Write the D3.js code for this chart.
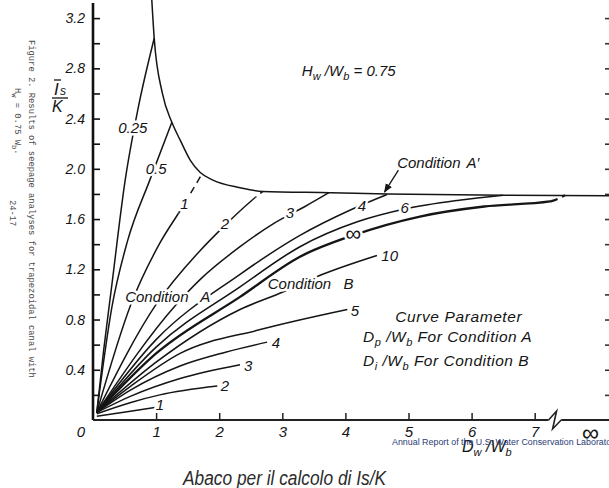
<!DOCTYPE html>
<html lang="it">
<head>
<meta charset="UTF-8" />
<title>Abaco per il calcolo di Is/K</title>
<style>
  body { margin: 0; background: #fff; }
  svg text { font-family: "Liberation Sans", Arial, sans-serif; font-style: italic; fill: #151515; }
  .halo { stroke: #fff; stroke-width: 5px; paint-order: stroke; stroke-linejoin: round; }
  .mono { font-family: "Liberation Mono", "DejaVu Sans Mono", monospace; font-style: normal; fill: #4a4a4a; }
  .curve { fill: none; stroke: #151515; }
</style>
</head>
<body>
<div id="chart"></div>
<script src="https://cdn.jsdelivr.net/npm/d3@7"></script>
<script>
var W = 609, H = 488;

// axis ticks
var yTicks = [0.2, 0.4, 0.6, 0.8, 1.0, 1.2, 1.4, 1.6, 1.8, 2.0, 2.2, 2.4, 2.6, 2.8, 3.0, 3.2];
var yLabels = [0.4, 0.8, 1.2, 1.6, 2.0, 2.4, 2.8, 3.2];
var xTicks = [1, 2, 3, 4, 5, 6, 7];
var xInf = 7.88; // where the "infinity" label sits, past the axis break

// envelope "Condition A'"
var envelope = [[0.93, 3.36], [0.97, 3.04], [1.1, 2.6], [1.25, 2.37], [1.38, 2.23], [1.54, 2.07], [1.70, 1.97], [1.90, 1.91], [2.33, 1.85], [2.69, 1.82], [3.76, 1.81], [4.66, 1.80], [6.5, 1.79], [8.3, 1.785]];

// Condition A curves (Dp/Wb)
var a025 = [[0.06, 0.06], [0.17, 0.56], [0.29, 1.04], [0.51, 1.91], [0.71, 2.47], [0.97, 3.04]];
var a05 = [[0.06, 0.06], [0.30, 0.90], [0.55, 1.43], [0.90, 1.91], [1.25, 2.37]];
var a1 = [[0.06, 0.06], [0.60, 0.92], [1.05, 1.40], [1.41, 1.69], [1.74, 1.97]];
var a2 = [[0.06, 0.06], [1.00, 0.92], [1.70, 1.35], [1.97, 1.49], [2.52, 1.75], [2.69, 1.82]];
var a3 = [[0.06, 0.06], [1.32, 0.92], [1.70, 1.12], [2.33, 1.38], [2.88, 1.57], [3.36, 1.70], [3.74, 1.81]];
var a4 = [[0.06, 0.06], [1.0, 0.64], [2.33, 1.16], [3.28, 1.47], [4.07, 1.67], [4.66, 1.795]];
var a6 = [[0.06, 0.06], [1.0, 0.58], [2.33, 1.06], [3.28, 1.38], [4.2, 1.58], [4.94, 1.68], [5.8, 1.75], [6.5, 1.79]];
var aInf = [[0.06, 0.06], [1.0, 0.53], [2.33, 0.98], [3.28, 1.30], [4.12, 1.47], [5.18, 1.62], [6.2, 1.70], [7.24, 1.74], [7.48, 1.79]];

// Condition B curves (Di/Wb)
var b10 = [[0.06, 0.06], [1.0, 0.46], [2.33, 0.88], [3.01, 1.02], [3.64, 1.16], [4.50, 1.31]];
var b5 = [[0.06, 0.06], [0.6, 0.27], [1.38, 0.53], [2.65, 0.72], [4.03, 0.88]];
var b4 = [[0.06, 0.06], [0.6, 0.24], [1.38, 0.43], [2.1, 0.54], [2.76, 0.62]];
var b3 = [[0.06, 0.06], [0.6, 0.19], [1.38, 0.33], [2.33, 0.44]];
var b2 = [[0.06, 0.05], [0.6, 0.14], [1.06, 0.20], [1.97, 0.27]];
var b1 = [[0.06, 0.03], [0.54, 0.065], [0.98, 0.10]];

var svg = d3.select("#chart").append("svg")
  .attr("width", W).attr("height", H)
  .style("background", "#fff");

var x = d3.scaleLinear().domain([0, 7]).range([93, 534.7]);
var y = d3.scaleLinear().domain([0, 3.2]).range([420, 18.1]);

var line = d3.line()
  .x(function (d) { return x(d[0]); })
  .y(function (d) { return y(d[1]); })
  .curve(d3.curveMonotoneX);

var defs = svg.append("defs");
defs.append("marker")
  .attr("id", "arrow").attr("viewBox", "0 0 10 10")
  .attr("refX", 9).attr("refY", 5)
  .attr("markerWidth", 7).attr("markerHeight", 7)
  .attr("orient", "auto")
  .append("path").attr("d", "M0,1 L10,5 L0,9 z").attr("fill", "#151515");

// draw a curve, solid up to dashFrom and dashed after it
var clipId = 0;
function drawCurve(pts, w, dashFrom) {
  if (dashFrom == null) {
    svg.append("path").attr("class", "curve").attr("stroke-width", w).attr("d", line(pts));
    return;
  }
  var id = "c" + (clipId++);
  defs.append("clipPath").attr("id", id + "l").append("rect")
    .attr("x", 0).attr("y", 0).attr("width", x(dashFrom)).attr("height", H);
  defs.append("clipPath").attr("id", id + "r").append("rect")
    .attr("x", x(dashFrom)).attr("y", 0).attr("width", W).attr("height", H);
  svg.append("path").attr("class", "curve").attr("stroke-width", w)
    .attr("clip-path", "url(#" + id + "l)").attr("d", line(pts));
  svg.append("path").attr("class", "curve").attr("stroke-width", w)
    .attr("stroke-dasharray", "7,5")
    .attr("clip-path", "url(#" + id + "r)").attr("d", line(pts));
}

drawCurve(envelope, 1.5);
drawCurve(a025, 1.5);
drawCurve(a05, 1.5);
drawCurve(a1, 1.5, 1.36);
drawCurve(a2, 1.5, 2.58);
drawCurve(a3, 1.5);
drawCurve(a4, 1.5);
drawCurve(a6, 1.6);
drawCurve(aInf, 2.3, 7.26);
drawCurve(b10, 1.6);
drawCurve(b5, 1.5);
drawCurve(b4, 1.5);
drawCurve(b3, 1.5);
drawCurve(b2, 1.5);
drawCurve(b1, 1.5);

// curve labels
function label(txt, xv, yv, size, anchor) {
  return svg.append("text").attr("class", "halo")
    .attr("x", x(xv)).attr("y", y(yv)).attr("dy", "0.36em")
    .attr("text-anchor", anchor || "middle")
    .style("font-size", (size || 15) + "px")
    .text(txt);
}
label("0.25", 0.63, 2.33);
label("0.5", 1.0, 2.0);
label("1", 1.45, 1.72);
label("2", 2.09, 1.56);
label("3", 3.12, 1.65);
label("4", 4.26, 1.71);
label("6", 4.94, 1.69);
label("\u221E", 4.12, 1.49, 22);
label("10", 4.57, 1.31, 15, "start");
label("5", 4.15, 0.875);
label("4", 2.90, 0.62);
label("3", 2.46, 0.43);
label("2", 2.09, 0.27);
label("1", 1.06, 0.12);

label("Condition", 0.51, 0.98, 15, "start");
label("A", 1.70, 0.98, 15, "start");
label("Condition", 2.77, 1.09, 15, "start");
label("B", 3.97, 1.09, 15, "start");
label("Condition", 4.82, 2.05, 15, "start");
label("A\u2032", 5.92, 2.05, 15, "start");

// arrow to the envelope
svg.append("line")
  .attr("x1", x(4.84)).attr("y1", y(1.99))
  .attr("x2", x(4.62)).attr("y2", y(1.815))
  .attr("stroke", "#151515").attr("stroke-width", 1.3)
  .attr("marker-end", "url(#arrow)");

// H_w / W_b = 0.75
var hw = svg.append("text").attr("x", x(3.31)).attr("y", y(2.74)).style("font-size", "15px");
hw.append("tspan").text("H");
hw.append("tspan").attr("dy", 4).style("font-size", "11px").text("w");
hw.append("tspan").attr("dy", -4).text("  /W");
hw.append("tspan").attr("dy", 4).style("font-size", "11px").text("b");
hw.append("tspan").attr("dy", -4).text(" = 0.75");

// legend text
svg.append("text").attr("x", x(4.79)).attr("y", y(0.78)).style("font-size", "15.5px")
  .style("letter-spacing", "0.6px").text("Curve  Parameter");
function paramLine(sub, cond, yv) {
  var t = svg.append("text").attr("x", x(4.28)).attr("y", y(yv)).style("font-size", "15.5px")
    .style("letter-spacing", "0.5px");
  t.append("tspan").text("D");
  t.append("tspan").attr("dy", 4).style("font-size", "11px").text(sub);
  t.append("tspan").attr("dy", -4).text(" /W");
  t.append("tspan").attr("dy", 4).style("font-size", "11px").text("b");
  t.append("tspan").attr("dy", -4).text("  For  Condition  " + cond);
}
paramLine("p", "A", 0.62);
paramLine("i", "B", 0.43);

// left axis
svg.append("line")
  .attr("x1", x(0)).attr("x2", x(0))
  .attr("y1", y(0)).attr("y2", y(3.32))
  .attr("stroke", "#111").attr("stroke-width", 2.6);
var yAxis = svg.append("g")
  .attr("transform", "translate(" + x(0) + ",0)")
  .call(d3.axisLeft(y).tickValues(yTicks).tickSizeInner(-7).tickSizeOuter(0).tickPadding(8)
    .tickFormat(function (d) {
      return yLabels.some(function (v) { return Math.abs(v - d) < 1e-6; }) ? d3.format(".1f")(d) : "";
    }));
yAxis.select(".domain").remove();
yAxis.selectAll(".tick line").attr("stroke", "#111").attr("stroke-width", 1.6);
yAxis.selectAll("text").style("font-size", "14px").attr("fill", "#151515")
  .style("font-family", "Liberation Sans, Arial, sans-serif").style("font-style", "italic");

// right edge ticks
var rAxis = svg.append("g")
  .attr("transform", "translate(" + W + ",0)")
  .call(d3.axisLeft(y).tickValues(yTicks).tickSize(4).tickFormat(""));
rAxis.select(".domain").remove();
rAxis.selectAll(".tick line").attr("stroke", "#333").attr("stroke-width", 1.6);

// bottom axis with break
var xb0 = 7.22, xb1 = 7.42;
svg.append("line").attr("x1", x(0)).attr("x2", x(xb0)).attr("y1", y(0)).attr("y2", y(0))
  .attr("stroke", "#222").attr("stroke-width", 2);
svg.append("path")
  .attr("d", "M" + x(xb0) + "," + y(0) + " L" + (x(xb0) + 8) + "," + (y(0) - 9) +
    " L" + (x(xb0) + 4) + "," + (y(0) + 9) + " L" + x(xb1) + "," + y(0))
  .attr("fill", "none").attr("stroke", "#222").attr("stroke-width", 1.6);
svg.append("line").attr("x1", x(xb1)).attr("x2", W).attr("y1", y(0)).attr("y2", y(0))
  .attr("stroke", "#222").attr("stroke-width", 2);

var xAxis = svg.append("g")
  .attr("transform", "translate(0," + y(0) + ")")
  .call(d3.axisBottom(x).tickValues(xTicks).tickSizeInner(-7).tickSizeOuter(0).tickPadding(6)
    .tickFormat(d3.format("d")));
xAxis.select(".domain").remove();
xAxis.selectAll(".tick line").attr("stroke", "#222").attr("stroke-width", 1.5);
xAxis.selectAll("text").style("font-size", "15px").attr("fill", "#151515")
  .style("font-family", "Liberation Sans, Arial, sans-serif").style("font-style", "italic");

svg.append("text").attr("x", x(0) - 12).attr("y", y(0) + 17)
  .attr("text-anchor", "middle").style("font-size", "15px").text("0");
svg.append("text").attr("x", x(xInf)).attr("y", y(0) + 21)
  .attr("text-anchor", "middle").style("font-size", "24px").text("\u221E");

// axis titles
svg.append("line").attr("x1", 54).attr("x2", 61).attr("y1", 80).attr("y2", 80)
  .attr("stroke", "#151515").attr("stroke-width", 1.3);
svg.append("text").attr("x", 54).attr("y", 95).style("font-size", "17px").text("I");
svg.append("text").attr("x", 60).attr("y", 95).style("font-size", "12px").text("s");
svg.append("line").attr("x1", 52).attr("x2", 68).attr("y1", 98).attr("y2", 98)
  .attr("stroke", "#151515").attr("stroke-width", 1.3);
svg.append("text").attr("x", 52).attr("y", 112).style("font-size", "16px").text("K");

var xt = svg.append("text").attr("x", 462).attr("y", 452).style("font-size", "16px");
xt.append("tspan").text("D");
xt.append("tspan").attr("dy", 4).style("font-size", "11px").text("w");
xt.append("tspan").attr("dy", -4).text(" /W");
xt.append("tspan").attr("dy", 4).style("font-size", "11px").text("b");

// typewritten side note
var note = svg.append("g");
note.append("text").attr("class", "mono").attr("transform", "translate(29,40) rotate(90)")
  .style("font-size", "8.8px").text("Figure 2.  Results of seepage analyses for trapezoidal canal with");
var n2 = note.append("text").attr("class", "mono").attr("transform", "translate(15,88) rotate(90)")
  .style("font-size", "8.8px");
n2.append("tspan").text("H");
n2.append("tspan").attr("dy", 3).style("font-size", "7px").text("w");
n2.append("tspan").attr("dy", -3).text(" = 0.75 W");
n2.append("tspan").attr("dy", 3).style("font-size", "7px").text("b");
n2.append("tspan").attr("dy", -3).text(".");
note.append("text").attr("class", "mono").attr("transform", "translate(10,200) rotate(90)")
  .style("font-size", "8.8px").text("24-17");

// source overlay and caption
svg.append("text").attr("x", 392).attr("y", 445)
  .style("font-style", "normal").style("font-size", "8.9px")
  .style("fill", "#2a3d74")
  .text("Annual Report of the U.S. Water Conservation Laboratory");

svg.append("text").attr("x", 183).attr("y", 485)
  .attr("textLength", 203).attr("lengthAdjust", "spacingAndGlyphs")
  .style("font-size", "20px").style("fill", "#2b2b2b")
  .text("Abaco per il calcolo di Is/K");
</script>
</body>
</html>
